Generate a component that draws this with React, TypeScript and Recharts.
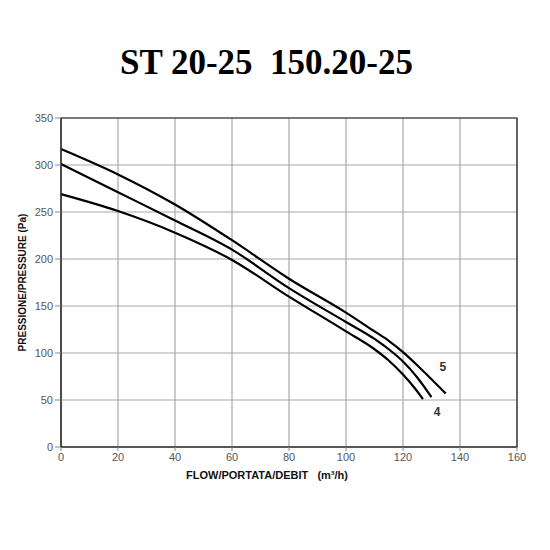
import React from "react";
import { LineChart, Line, XAxis, YAxis, CartesianGrid, ReferenceArea, ReferenceDot, Label } from "recharts";

const curve5 = [
  { q: 0, p: 317 }, { q: 20, p: 290 }, { q: 40, p: 258 }, { q: 60, p: 220 },
  { q: 80, p: 179 }, { q: 100, p: 143 }, { q: 110, p: 123 }, { q: 115, p: 113 },
  { q: 120, p: 101 }, { q: 125, p: 87 }, { q: 130, p: 72 }, { q: 135, p: 57 },
];
const curveMid = [
  { q: 0, p: 301 }, { q: 20, p: 271 }, { q: 40, p: 241 }, { q: 60, p: 210 },
  { q: 80, p: 169 }, { q: 100, p: 133 }, { q: 110, p: 115 }, { q: 115, p: 104 },
  { q: 120, p: 91 }, { q: 125, p: 74 }, { q: 130, p: 53 },
];
const curve4 = [
  { q: 0, p: 269 }, { q: 20, p: 251 }, { q: 40, p: 228 }, { q: 60, p: 199 },
  { q: 80, p: 160 }, { q: 100, p: 123 }, { q: 110, p: 104 }, { q: 115, p: 92 },
  { q: 120, p: 77 }, { q: 124, p: 63 }, { q: 127, p: 51 },
];
const xTicks = [0, 20, 40, 60, 80, 100, 120, 140, 160];
const yTicks = [0, 50, 100, 150, 200, 250, 300, 350];
const title = "ST 20-25\u00a0\u00a0150.20-25";
const xLabel = "FLOW/PORTATA/DEBIT\u00a0\u00a0\u00a0(m³/h)";
const yLabel = "PRESSIONE/PRESSURE (Pa)";

const tickStyle = { fontFamily: "Liberation Sans, Arial, sans-serif", fontSize: 11, fill: "#555" };

export default function App() {
  return (
    <div style={{ position: "absolute", left: 0, top: 0, width: 550, height: 550, background: "#fff" }}>
      <div style={{ position: "absolute", left: 0, top: 43, width: 533, textAlign: "center", fontFamily: "Liberation Serif, Times New Roman, serif", fontWeight: "bold", fontSize: 35, color: "#000" }}>
        {title}
      </div>
      <LineChart width={550} height={550} margin={{ top: 118, right: 33, bottom: 73, left: 0 }}>
        <CartesianGrid stroke="#a8a8a8" strokeWidth={1.2} />
        <XAxis
          dataKey="q"
          type="number"
          domain={[0, 160]}
          ticks={xTicks}
          allowDuplicatedCategory={false}
          height={30}
          tick={tickStyle}
          tickLine={{ stroke: "#888" }}
          axisLine={{ stroke: "#333" }}
          tickSize={4}
        >
          <Label value={xLabel} position="insideBottom" offset={-2} dx={-22} style={{ fontFamily: "Liberation Sans, Arial, sans-serif", fontSize: 11, fontWeight: "bold", fill: "#111" }} />
        </XAxis>
        <YAxis
          dataKey="p"
          type="number"
          domain={[0, 350]}
          ticks={yTicks}
          width={61}
          tick={tickStyle}
          tickLine={{ stroke: "#888" }}
          axisLine={{ stroke: "#333" }}
          tickSize={6}
        >
          <Label value={yLabel} angle={-90} position="insideLeft" offset={22} style={{ textAnchor: "middle", fontFamily: "Liberation Sans, Arial, sans-serif", fontSize: 10, fontWeight: "bold", fill: "#111" }} />
        </YAxis>
        <ReferenceArea x1={0} x2={160} y1={0} y2={350} fill="none" stroke="#222" strokeWidth={1.2} />
        <Line data={curve5} dataKey="p" type="monotone" stroke="#000" strokeWidth={2.2} dot={false} isAnimationActive={false} />
        <Line data={curveMid} dataKey="p" type="monotone" stroke="#000" strokeWidth={2.2} dot={false} isAnimationActive={false} />
        <Line data={curve4} dataKey="p" type="monotone" stroke="#000" strokeWidth={2.2} dot={false} isAnimationActive={false} />
        <ReferenceDot x={134} y={85} r={0} fill="none" stroke="none" label={{ value: "5", position: "center", style: { fontFamily: "Liberation Sans, Arial, sans-serif", fontSize: 12, fontWeight: "bold", fill: "#333" } }} />
        <ReferenceDot x={132} y={38} r={0} fill="none" stroke="none" label={{ value: "4", position: "center", style: { fontFamily: "Liberation Sans, Arial, sans-serif", fontSize: 12, fontWeight: "bold", fill: "#333" } }} />
      </LineChart>
    </div>
  );
}
